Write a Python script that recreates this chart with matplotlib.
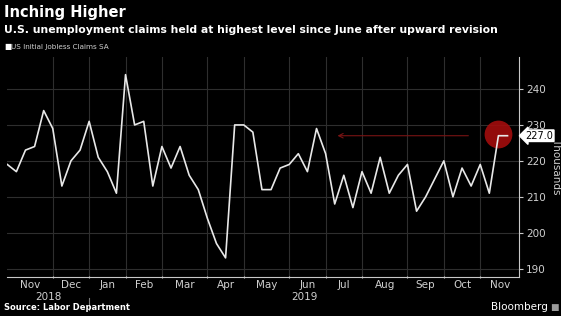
import numpy as np
import pandas as pd
import matplotlib
matplotlib.use('Agg')
import matplotlib.pyplot as plt
import matplotlib.dates as mdates
import matplotlib.transforms as mtransforms

# weekly initial jobless claims, thousands (week ending Saturday)
dates = pd.date_range('2018-10-27', periods=56, freq='7D')
claims = [219, 217, 223, 224, 234, 229, 213, 220, 223, 231,
          221, 217, 211, 244, 230, 231, 213, 224, 218, 224,
          216, 212, 204, 197, 193, 230, 230, 228, 212, 212,
          218, 219, 222, 217, 229, 222, 208, 216, 207, 217,
          211, 221, 211, 216, 219, 206, 210, 215, 220, 210,
          218, 213, 219, 211, 227, 227]
month_starts = pd.date_range('2018-12-01', '2019-11-01', freq='MS')
month_names = ['Nov', 'Dec', 'Jan', 'Feb', 'Mar', 'Apr', 'May',
               'Jun', 'Jul', 'Aug', 'Sep', 'Oct', 'Nov']
y_ticks = [190, 200, 210, 220, 230, 240]
last_value = 227.0

bg = 'black'
grid_col = '#2e2e2e'
axis_col = '#c8c8c8'
text_col = '#d0d0d0'

fig = plt.figure(figsize=(5.61, 3.16), dpi=100, facecolor=bg)
ax = fig.add_axes([0.013, 0.1225, 0.9125, 0.697])
ax.set_facecolor(bg)

# month separators sit on the last week before each month starts
tick_dates = [dates[dates <= m][-1] for m in month_starts]
x0 = dates[0]
x1 = dates[0] + pd.Timedelta(days=394)
ax.set_xlim(x0, x1)
ax.set_ylim(187.6, 248.9)

ax.plot(dates, claims, color='#e8e8e8', lw=1.2, zorder=3)

# highlight latest reading
ax.plot(dates[54], 227.6, 'o', ms=20, color='#a30d0d', alpha=0.9, zorder=2,
        markeredgewidth=0)
ax.annotate('', xy=(dates[36], last_value), xytext=(dates[51], last_value),
            arrowprops=dict(arrowstyle='->', color='#7a1414', lw=0.8,
                            mutation_scale=8), zorder=2)

# axes styling
for s in ['left', 'top']:
    ax.spines[s].set_visible(False)
ax.spines['right'].set_color(axis_col)
ax.spines['bottom'].set_color(axis_col)
ax.spines['right'].set_linewidth(0.8)
ax.spines['bottom'].set_linewidth(0.8)

ax.yaxis.tick_right()
ax.set_yticks(y_ticks)
ax.tick_params(axis='y', colors=axis_col, labelcolor=text_col, labelsize=7.5,
               length=3, width=0.8, pad=2)
for y in y_ticks:
    ax.axhline(y, color=grid_col, lw=0.8, zorder=1)

ax.set_xticks(tick_dates)
ax.xaxis.set_major_formatter(plt.NullFormatter())
edges = [x0] + tick_dates + [x1]
mids = [edges[i] + (edges[i + 1] - edges[i]) / 2 for i in range(len(edges) - 1)]
ax.set_xticks(mids, minor=True)
ax.set_xticklabels(month_names, minor=True)
ax.tick_params(axis='x', which='major', colors=axis_col, length=2, width=0.8,
               direction='inout')
ax.tick_params(axis='x', which='minor', length=0, labelcolor=text_col,
               labelsize=7.5, pad=2)
for t in tick_dates:
    ax.axvline(t, color=grid_col, lw=0.8, zorder=1)

# year labels under months
trans = mtransforms.blended_transform_factory(ax.transData, ax.transAxes)
jan = tick_dates[1]
ax.text(x0 + (jan - x0) / 2, -0.088, '2018', transform=trans, ha='center',
        va='center', color=text_col, fontsize=7.5)
ax.text(jan + (x1 - jan) / 2, -0.088, '2019', transform=trans, ha='center',
        va='center', color=text_col, fontsize=7.5)
ax.plot([jan, jan], [-0.095, -0.15], transform=trans, color='#777777',
        lw=0.8, clip_on=False)

# last value tag
ytrans = mtransforms.blended_transform_factory(ax.transAxes, ax.transData)
ax.text(1.012, last_value, f'{last_value:.1f}', transform=ytrans, ha='left',
        va='center', fontsize=7, color='black',
        bbox=dict(boxstyle='larrow,pad=0.08', fc='white', ec='white'))

fig.text(0.991, 0.475, 'Thousands', rotation=270, ha='center', va='center',
         color=text_col, fontsize=7.5)

# titles and legend
fig.text(0.007, 0.962, 'Inching Higher', color='white', fontsize=10.5,
         fontweight='bold', ha='left', va='center')
fig.text(0.007, 0.905, 'U.S. unemployment claims held at highest level since June after upward revision',
         color='white', fontsize=7.85, fontweight='bold', ha='left', va='center')
fig.text(0.007, 0.852, '\u25a0', color='white', fontsize=5.5, ha='left', va='center')
fig.text(0.02, 0.852, 'US Initial Jobless Claims SA', color=text_col,
         fontsize=5.2, ha='left', va='center')

fig.text(0.007, 0.028, 'Source: Labor Department', color='white', fontsize=6,
         fontweight='bold', ha='left', va='center')
fig.text(0.977, 0.028, 'Bloomberg', color='white', fontsize=7.5,
         ha='right', va='center')
fig.text(0.981, 0.028, '\u25a0', color='#9a9a9a', fontsize=6.5,
         ha='left', va='center')

fig.savefig('out.png', dpi=100, facecolor=bg)
